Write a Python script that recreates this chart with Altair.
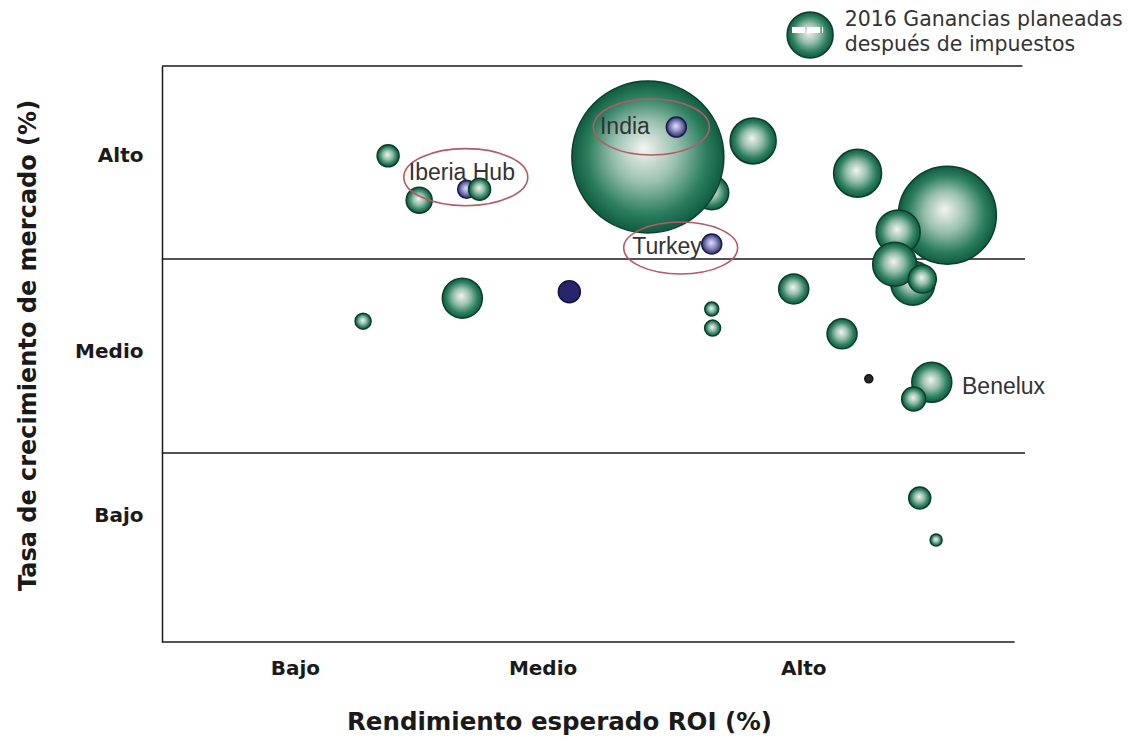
import math
import altair as alt
import pandas as pd

# ---------------- data ----------------
# ROI position (0-100 scale), market growth (0-100 scale), planned 2016 profit, colour group
roi = [26.2, 29.8, 23.3, 34.8, 63.7, 56.3, 68.5, 63.7, 63.8, 73.2, 78.8, 80.6,
       91.0, 87.0, 85.3, 84.9, 88.1, 89.2, 87.1, 87.8, 89.7,
       35.3, 59.6, 63.7,
       47.2,
       81.9,
       36.8]
crecimiento = [84.4, 76.7, 55.7, 59.7, 78.0, 84.2, 87.0, 57.8, 54.5, 61.3, 53.5, 81.4,
               74.1, 62.3, 71.2, 65.6, 63.0, 45.1, 42.2, 25.0, 17.7,
               78.6, 89.4, 69.1,
               60.8,
               45.7,
               78.6]
ganancia = [12.1, 16.9, 6.4, 40.0, 28.9, 577.6, 52.9, 4.9, 6.4, 22.5, 22.5, 57.6,
            240.1, 48.4, 48.4, 48.4, 19.6, 40.0, 14.4, 12.1, 3.6,
            8.1, 10.0, 10.0,
            12.1,
            1.6,
            12.1]
grupo = ["verde"] * 21 + ["morado"] * 3 + ["azul"] + ["negro"] + ["verde2"]

# level boundaries of the matrix
niveles = [0, 32.8, 66.5, 100]
niveles_fin = [98.8, 100, 100, 99.7]

# tick labels
x_ticks = [15.4, 44.1, 74.3]
y_ticks = [22.0, 50.5, 84.4]
tick_labels = ["Bajo", "Medio", "Alto"]

# annotations
etiquetas = ["India", "Iberia Hub", "Turkey", "Benelux"]
etiq_x = [50.75, 28.6, 54.5, 92.7]
etiq_y = [89.4, 81.4, 68.6, 44.3]

elipse_x = [56.7, 35.2, 60.1]
elipse_y = [89.4, 80.7, 68.4]
elipse_rx = [58, 62, 57]
elipse_ry = [28, 28.5, 26]

leyenda = ["2016 Ganancias planeadas", "después de impuestos"]

# ---------------- build ----------------
df = pd.DataFrame({"roi": roi, "crec": crecimiento, "ganancia": ganancia,
                   "grupo": grupo, "z": list(range(len(roi)))})

xs = alt.Scale(domain=[0, 100], nice=False, zero=False)
ys = alt.Scale(domain=[0, 100], nice=False, zero=False)
ss = alt.Scale(type="linear", domain=[0, 1000], range=[0, 40000], zero=True)


def radial(stops):
    return alt.RadialGradient(
        gradient="radial",
        stops=[alt.GradientStop(offset=o, color=c) for o, c in stops],
        x1=0.47, y1=0.44, r1=0, x2=0.5, y2=0.5, r2=0.5)


verde = radial([(0, "#f4f4f0"), (0.42, "#98c0ad"), (0.78, "#2c7e5e"), (1, "#0f5c40")])
morado = radial([(0, "#e2e2f4"), (0.45, "#9898cc"), (1, "#2e2e6c")])


def lbl_expr(vals, labels):
    expr = "''"
    for v, l in zip(reversed(vals), reversed(labels)):
        expr = f"datum.value == {v} ? '{l}' : ({expr})"
    return expr


x_axis = alt.Axis(
    values=x_ticks, labelExpr=lbl_expr(x_ticks, tick_labels),
    title="Rendimiento esperado ROI (%)", domain=False, ticks=False, tickSize=0,
    grid=False, labelFont="DejaVu Sans", labelFontSize=20, labelFontWeight="bold",
    labelColor="#1a1a1a", labelPadding=16, labelAlign="center",
    titleFont="DejaVu Sans", titleFontSize=24.5, titleFontWeight="bold",
    titleColor="#1a1a1a", titleX=397, titleY=80, titleAlign="center",
    titleBaseline="middle")
y_axis = alt.Axis(
    values=y_ticks, labelExpr=lbl_expr(y_ticks, tick_labels),
    title="Tasa de crecimiento de mercado (%)", domain=True, domainColor="#1a1a1a",
    domainWidth=1.5, ticks=False, tickSize=0, grid=False,
    labelFont="DejaVu Sans", labelFontSize=20, labelFontWeight="bold",
    labelColor="#1a1a1a", labelPadding=19,
    titleFont="DejaVu Sans", titleFontSize=24, titleFontWeight="bold",
    titleColor="#1a1a1a", titleX=-134, titleY=279, titleAngle=270,
    titleAlign="center", titleBaseline="middle")


def X(f):
    return alt.X(f, scale=xs, axis=x_axis, title="Rendimiento esperado ROI (%)")


def Y(f):
    return alt.Y(f, scale=ys, axis=y_axis, title="Tasa de crecimiento de mercado (%)")


rules_df = pd.DataFrame({"y": niveles, "x0": [0] * len(niveles), "x1": niveles_fin})

rules = alt.Chart(rules_df).mark_rule(color="#1a1a1a", strokeWidth=1.5).encode(
    x=X("x0:Q"), x2="x1:Q", y=Y("y:Q"))


def bubbles(g, fill, stroke):
    return alt.Chart(df).transform_filter(alt.datum.grupo == g).mark_circle(
        fill=fill, stroke=stroke, strokeWidth=1.5, opacity=1, fillOpacity=1
    ).encode(
        x=X("roi:Q"),
        y=Y("crec:Q"),
        size=alt.Size("ganancia:Q", scale=ss, legend=None),
        order=alt.Order("z:Q"),
    )


layers = [rules,
          bubbles("verde", verde, "#0c3d2b"),
          bubbles("morado", morado, "#1c1c48"),
          bubbles("azul", "#26246a", "#15143e"),
          bubbles("negro", "#2a2a2a", "#111111"),
          bubbles("verde2", verde, "#0c3d2b")]

# ellipses
for ex, ey, rx, ry in zip(elipse_x, elipse_y, elipse_rx, elipse_ry):
    r = ry / rx
    path = f"M -1 0 A 1 {r:.3f} 0 1 0 1 0 A 1 {r:.3f} 0 1 0 -1 0 Z"
    edf = pd.DataFrame({"x": [ex], "y": [ey]})
    layers.append(alt.Chart(edf).mark_point(
        shape=path, size=(2 * rx) ** 2, filled=False, stroke="#b45a66",
        strokeWidth=1.6, opacity=1
    ).encode(x=X("x:Q"), y=Y("y:Q")))

# labels
ldf = pd.DataFrame({"t": etiquetas, "x": etiq_x, "y": etiq_y})
layers.append(alt.Chart(ldf).mark_text(
    align="left", baseline="middle", font="Liberation Sans", fontSize=23, color="#333333"
).encode(x=X("x:Q"), y=Y("y:Q"), text="t:N"))

# legend
leg_c = pd.DataFrame({"x": [75.1], "y": [105.4]})
layers.append(alt.Chart(leg_c).mark_circle(
    fill=verde, stroke="#0c3d2b", strokeWidth=1.5, opacity=1, size=4 * 23 ** 2
).encode(x=X("x:Q"), y=Y("y:Q")))
leg_b = pd.DataFrame({"x": [73.0], "x2": [76.6], "y": [106.25]})
layers.append(alt.Chart(leg_b).mark_rule(
    color="white", strokeWidth=6, strokeDash=[13, 2]
).encode(x=X("x:Q"), x2="x2:Q", y=Y("y:Q")))
leg_t = pd.DataFrame({"t": leyenda, "x": [79.1, 79.1], "y": [107.9, 103.6]})
layers.append(alt.Chart(leg_t).mark_text(
    align="left", baseline="middle", font="DejaVu Sans", fontSize=20.5, color="#333333"
).encode(x=X("x:Q"), y=Y("y:Q"), text="t:N"))

chart = alt.layer(*layers).properties(
    width=863, height=576,
    autosize=alt.AutoSizeParams(type="none"),
    padding={"left": 162, "top": 66, "right": 117, "bottom": 98},
    background="white",
).configure_view(strokeWidth=0)

chart.save("out.html", embed_options={"renderer": "svg", "actions": False})
